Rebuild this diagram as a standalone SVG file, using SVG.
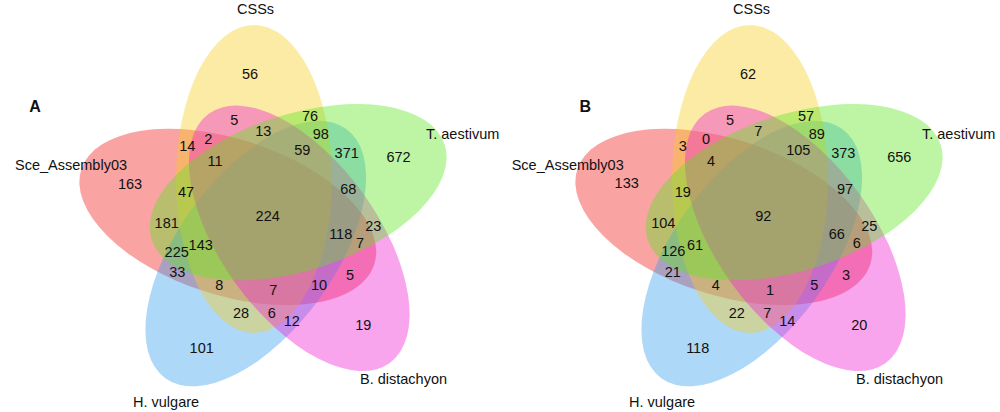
<svg xmlns="http://www.w3.org/2000/svg" width="1000" height="412" viewBox="0 0 1000 412">
<style>
.e{fill-opacity:.4;stroke:none}
.red{fill:#F01919}.yel{fill:#F7CD1E}.grn{fill:#5AE61E}.mag{fill:#ED1ED4}.blu{fill:#349DED}
text{font-family:"Liberation Sans",Arial,sans-serif;font-size:14.5px;fill:#111}
.n{text-anchor:middle}
.p{font-weight:bold;font-size:16px;text-anchor:middle}
</style>
<rect width="1000" height="412" fill="#fff"/>
<g id="panelA">
  <g id="A-sce"><ellipse class="e red" cx="254" cy="179" rx="78" ry="154" transform="rotate(288 267 216)"/><text x="15" y="169.5">Sce_Assembly03</text></g>
  <g id="A-hv"><ellipse class="e blu" cx="254" cy="179" rx="78" ry="154" transform="rotate(216 267 216)"/><text x="133" y="406.5">H. vulgare</text></g>
  <g id="A-css"><ellipse class="e yel" cx="254" cy="179" rx="78" ry="154"/><text x="237" y="13.5">CSSs</text></g>
  <g id="A-bd"><ellipse class="e mag" cx="254" cy="179" rx="78" ry="154" transform="rotate(144 267 216)"/><text x="360" y="384">B. distachyon</text></g>
  <g id="A-ta"><ellipse class="e grn" cx="254" cy="179" rx="78" ry="154" transform="rotate(72 267 216)"/><text x="426" y="139">T. aestivum</text></g>
  <text class="p" x="35" y="111.5">A</text>
  <g id="A-counts" class="n">
    <text class="n" x="250" y="78.7">56</text>
    <text class="n" x="234.3" y="124.5">5</text>
    <text class="n" x="310" y="121.2">76</text>
    <text class="n" x="263.3" y="135.9">13</text>
    <text class="n" x="320.7" y="138.5">98</text>
    <text class="n" x="208.3" y="143.5">2</text>
    <text class="n" x="187.3" y="150.5">14</text>
    <text class="n" x="302.3" y="155.2">59</text>
    <text class="n" x="346.7" y="157.5">371</text>
    <text class="n" x="398.5" y="161.9">672</text>
    <text class="n" x="215" y="166.2">11</text>
    <text class="n" x="130" y="188.5">163</text>
    <text class="n" x="186" y="196.9">47</text>
    <text class="n" x="348.3" y="194.2">68</text>
    <text class="n" x="267.7" y="221.2">224</text>
    <text class="n" x="166.7" y="227.9">181</text>
    <text class="n" x="373.3" y="231.2">23</text>
    <text class="n" x="340.7" y="239.2">118</text>
    <text class="n" x="360" y="247.5">7</text>
    <text class="n" x="200.7" y="250.2">143</text>
    <text class="n" x="176.7" y="256.9">225</text>
    <text class="n" x="177.3" y="276.9">33</text>
    <text class="n" x="350" y="280.2">5</text>
    <text class="n" x="219.3" y="290.2">8</text>
    <text class="n" x="319" y="290.2">10</text>
    <text class="n" x="273.3" y="295.2">7</text>
    <text class="n" x="241" y="317.9">28</text>
    <text class="n" x="271.7" y="317.9">6</text>
    <text class="n" x="291.7" y="325.9">12</text>
    <text class="n" x="363.3" y="330.2">19</text>
    <text class="n" x="201.7" y="352.9">101</text>
  </g>
</g>
<g id="panelB">
  <g id="B-sce"><ellipse class="e red" cx="750" cy="179" rx="78" ry="154" transform="rotate(288 763 216)"/><text x="511.7" y="169.5">Sce_Assembly03</text></g>
  <g id="B-hv"><ellipse class="e blu" cx="750" cy="179" rx="78" ry="154" transform="rotate(216 763 216)"/><text x="629" y="406.5">H. vulgare</text></g>
  <g id="B-css"><ellipse class="e yel" cx="750" cy="179" rx="78" ry="154"/><text x="733" y="13.5">CSSs</text></g>
  <g id="B-bd"><ellipse class="e mag" cx="750" cy="179" rx="78" ry="154" transform="rotate(144 763 216)"/><text x="856" y="384">B. distachyon</text></g>
  <g id="B-ta"><ellipse class="e grn" cx="750" cy="179" rx="78" ry="154" transform="rotate(72 763 216)"/><text x="922" y="139">T. aestivum</text></g>
  <text class="p" x="585.3" y="111.5">B</text>
  <g id="B-counts">
    <text class="n" x="748" y="78.7">62</text>
    <text class="n" x="730" y="124.5">5</text>
    <text class="n" x="806" y="121.2">57</text>
    <text class="n" x="758.3" y="135.9">7</text>
    <text class="n" x="816.7" y="139.2">89</text>
    <text class="n" x="706" y="143.9">0</text>
    <text class="n" x="682.7" y="150.9">3</text>
    <text class="n" x="798.3" y="155.2">105</text>
    <text class="n" x="843.3" y="157.5">373</text>
    <text class="n" x="899.3" y="161.9">656</text>
    <text class="n" x="711" y="166.2">4</text>
    <text class="n" x="626.7" y="187.9">133</text>
    <text class="n" x="682.7" y="196.9">19</text>
    <text class="n" x="845" y="194.2">97</text>
    <text class="n" x="763.3" y="221.2">92</text>
    <text class="n" x="663.3" y="227.9">104</text>
    <text class="n" x="869.3" y="231.2">25</text>
    <text class="n" x="836.7" y="239.2">66</text>
    <text class="n" x="856.7" y="247.9">6</text>
    <text class="n" x="695" y="250.2">61</text>
    <text class="n" x="673.3" y="256.2">126</text>
    <text class="n" x="672.7" y="276.9">21</text>
    <text class="n" x="846" y="280.2">3</text>
    <text class="n" x="715.7" y="290.2">4</text>
    <text class="n" x="814.3" y="290.2">5</text>
    <text class="n" x="770" y="295.2">1</text>
    <text class="n" x="736.7" y="317.9">22</text>
    <text class="n" x="767.3" y="317.9">7</text>
    <text class="n" x="787.3" y="325.9">14</text>
    <text class="n" x="859.3" y="330.2">20</text>
    <text class="n" x="697.7" y="352.9">118</text>
  </g>
</g>
</svg>
